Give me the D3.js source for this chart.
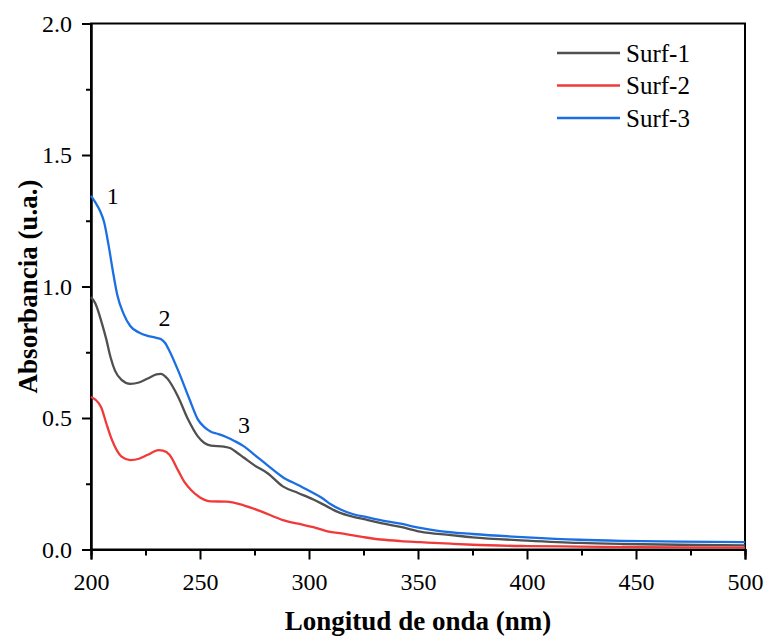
<!DOCTYPE html>
<html><head><meta charset="utf-8">
<script src="https://cdn.jsdelivr.net/npm/d3@7"></script>
<style>body{margin:0;background:#fff}svg{display:block}</style>
</head><body><svg id="c" width="767" height="637" font-family="Liberation Serif, DejaVu Serif, serif"></svg>
<script>
const seriesNames = ["Surf-1", "Surf-2", "Surf-3"];
const seriesColors = ["#505050", "#f03a3a", "#1b6fe3"];
const xTicks = [200, 250, 300, 350, 400, 450, 500];
const yTicks = [0.0, 0.5, 1.0, 1.5, 2.0];
const yTickLabels = ["0.0", "0.5", "1.0", "1.5", "2.0"];

const surf1 = [[200,0.96],[202,0.935],[205,0.86],[207,0.80],[209,0.73],[211,0.68],[214,0.645],[218,0.630],[222,0.635],[226,0.650],[230,0.666],[232,0.668],[235,0.650],[240,0.58],[244.5,0.495],[249,0.43],[252,0.405],[255,0.395],[261,0.391],[264,0.385],[267,0.368],[270,0.35],[275,0.32],[281,0.29],[288,0.24],[295,0.215],[302,0.19],[308,0.165],[314,0.14],[320,0.125],[327,0.112],[333,0.10],[342,0.086],[351,0.068],[365,0.055],[375,0.046],[400,0.034],[424,0.025],[444,0.021],[470,0.018],[500,0.016]];
const surf2 = [[200,0.58],[202,0.57],[204.7,0.54],[207,0.48],[209,0.43],[212,0.375],[214,0.353],[218,0.340],[222,0.345],[226,0.36],[231,0.378],[233,0.376],[236,0.36],[240,0.30],[243,0.255],[246,0.225],[250,0.198],[255,0.183],[262,0.182],[270,0.168],[278,0.145],[288,0.112],[295,0.098],[302,0.085],[308,0.07],[314,0.062],[325,0.047],[333,0.038],[342,0.032],[351,0.028],[365,0.022],[375,0.018],[400,0.013],[424,0.011],[450,0.009],[500,0.007]];
const surf3 = [[200,1.345],[202,1.32],[204,1.29],[206,1.245],[208,1.16],[210,1.06],[212,0.97],[215,0.895],[218,0.85],[222,0.825],[226,0.812],[230,0.805],[232,0.80],[234,0.785],[236,0.755],[240,0.68],[245,0.575],[249,0.495],[252,0.465],[255,0.448],[258,0.44],[262,0.428],[266,0.412],[270,0.393],[275,0.36],[281,0.32],[288,0.275],[295,0.245],[302,0.215],[306,0.196],[310,0.172],[315,0.15],[320,0.135],[327,0.122],[335,0.108],[342,0.098],[351,0.082],[360,0.07],[375,0.059],[400,0.046],[424,0.037],[444,0.033],[470,0.030],[500,0.028]];
const peakLabels = ["1", "2", "3"];
const peakX = [210, 233.7, 270.2];
const peakY = [1.314, 0.85, 0.443];

const FONT = "Liberation Serif, DejaVu Serif, serif";
const svg = d3.select("#c");
const L = 91, R = 745, T = 23.5, B = 549.5;
const x = d3.scaleLinear().domain([200,500]).range([L,R]);
const y = d3.scaleLinear().domain([0,2]).range([B,T]);

// frame
svg.append("rect").attr("x",L).attr("y",T).attr("width",R-L).attr("height",B-T)
  .attr("fill","none").attr("stroke","#000").attr("stroke-width",2);

// axes
const xAxis = d3.axisBottom(x).tickValues(xTicks).tickSize(10).tickPadding(8).tickFormat(d3.format("d"));
const gx = svg.append("g").attr("transform",`translate(0,${B})`).call(xAxis);
const xMinor = d3.axisBottom(x).tickValues(d3.range(225,500,50)).tickSize(6).tickFormat("");
const gxm = svg.append("g").attr("transform",`translate(0,${B})`).call(xMinor);
const yAxis = d3.axisLeft(y).tickValues(yTicks).tickSize(9).tickPadding(10).tickFormat((d,i)=>yTickLabels[i]);
const gy = svg.append("g").attr("transform",`translate(${L},0)`).call(yAxis);
const yMinor = d3.axisLeft(y).tickValues([0.25,0.75,1.25,1.75]).tickSize(5).tickFormat("");
const gym = svg.append("g").attr("transform",`translate(${L},0)`).call(yMinor);
[gx,gxm,gy,gym].forEach(g=>{
  g.attr("font-family",FONT).attr("font-size",24);
  g.select(".domain").attr("stroke","#000").attr("stroke-width",2);
  g.selectAll(".tick line").attr("stroke","#000").attr("stroke-width",2);
  g.selectAll("text").attr("fill","#000");
});
gx.selectAll(".tick text").attr("dy","0.95em");
gy.selectAll(".tick text").attr("dy","0.33em");

// lines
const line = d3.line().x(d=>x(d[0])).y(d=>y(d[1])).curve(d3.curveMonotoneX);
[surf1,surf2,surf3].forEach((s,i)=>{
  svg.append("path").datum(s).attr("d",line).attr("fill","none")
    .attr("stroke",seriesColors[i]).attr("stroke-width",2.3).attr("stroke-linejoin","round");
});

// peak labels
svg.selectAll(".pk").data(peakLabels).enter().append("text")
  .attr("x",(d,i)=>x(peakX[i])).attr("y",(d,i)=>y(peakY[i]))
  .attr("text-anchor","middle").attr("font-family",FONT).attr("font-size",24).text(d=>d);

// legend
const lg = svg.append("g").attr("font-family",FONT);
seriesNames.forEach((n,i)=>{
  const yy = 53 + i*32.5;
  lg.append("line").attr("x1",557).attr("x2",620).attr("y1",yy).attr("y2",yy)
    .attr("stroke",seriesColors[i]).attr("stroke-width",2.3);
  lg.append("text").attr("x",626).attr("y",yy+8.5).attr("font-size",25).text(n);
});

// titles
svg.append("text").attr("x",(L+R)/2).attr("y",630).attr("text-anchor","middle").attr("font-family",FONT)
  .attr("font-size",27).attr("font-weight","bold").text("Longitud de onda (nm)");
svg.append("text").attr("transform",`translate(37,${(T+B)/2}) rotate(-90)`).attr("text-anchor","middle").attr("font-family",FONT)
  .attr("font-size",27).attr("font-weight","bold").text("Absorbancia (u.a.)");
</script></body></html>
